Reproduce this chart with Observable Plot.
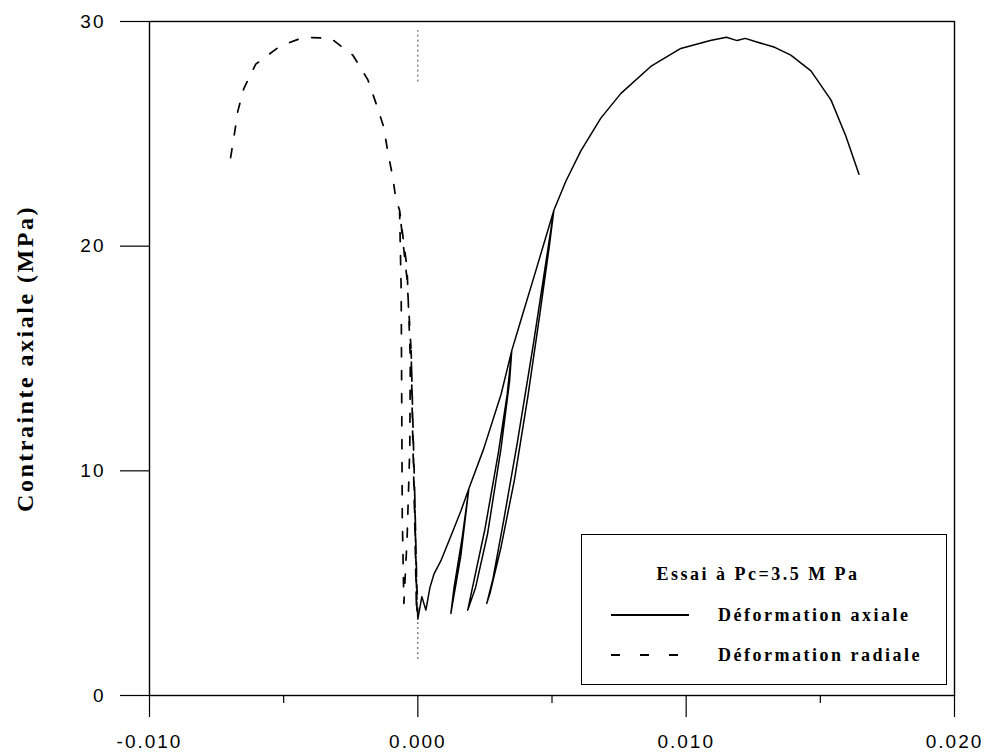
<!DOCTYPE html>
<html>
<head>
<meta charset="utf-8">
<script src="https://cdn.jsdelivr.net/npm/d3@7"></script>
<script src="https://cdn.jsdelivr.net/npm/@observablehq/plot@0.6"></script>
<style>
  html, body { margin: 0; padding: 0; background: #fff; }
  #wrap { position: relative; width: 989px; height: 753px; }
  #wrap svg { position: absolute; left: 0; top: 0; }
  g[aria-label$="tick label"] text { letter-spacing: 2px; }
  #legend { position: absolute; left: 581px; top: 534px; width: 364px; height: 149px;
            border: 1.5px solid #000; background: #fff;
            font-family: "Liberation Serif", "Times New Roman", serif; font-weight: bold; font-size: 18px; color: #000; }
  #legend .t { position: absolute; white-space: nowrap; letter-spacing: 2.5px; line-height: 1; }
  #legend svg { position: absolute; left: 0; top: 0; }
</style>
</head>
<body>
<div id="wrap"></div>
<script>
// ---- data (strain in units of 1e-3, stress in MPa) ----
const axialStrain = [0.00, 0.15, 0.30, 0.45, 0.60, 0.86, 1.30, 1.60, 1.90,
  1.60, 1.23, 1.35, 1.65, 1.90,
  2.46, 3.10, 3.50,
  3.42, 3.10, 2.60, 2.15, 1.86, 2.00, 2.50, 3.00, 3.33, 3.50,
  3.84, 4.32, 5.07,
  4.80, 4.30, 3.70, 3.20, 2.80, 2.57, 2.70, 3.10, 3.60, 4.10, 4.55, 4.90, 5.07,
  5.52, 6.08, 6.82, 7.57, 8.68, 9.80, 10.90, 11.50, 11.90, 12.20, 12.60, 13.30, 13.90, 14.65, 15.40, 15.95, 16.44];
const axialStress = [3.4, 4.4, 3.8, 4.8, 5.4, 6.0, 7.3, 8.2, 9.2,
  6.2, 3.65, 4.8, 7.0, 9.2,
  11.0, 13.4, 15.35,
  14.0, 11.0, 7.2, 4.8, 3.8, 4.6, 7.4, 10.8, 13.4, 15.35,
  16.7, 18.6, 21.6,
  19.5, 15.6, 11.2, 7.8, 5.2, 4.1, 4.6, 6.6, 9.6, 13.3, 17.0, 20.0, 21.6,
  22.9, 24.25, 25.7, 26.8, 28.0, 28.8, 29.15, 29.3, 29.15, 29.25, 29.1, 28.85, 28.5, 27.8, 26.5, 24.9, 23.2];

const radialStrain = [0.00, -0.06, -0.12, -0.06, -0.03, -0.08, -0.12,
  -0.18, -0.25, -0.15, -0.08, -0.05, -0.12, -0.20, -0.25,
  -0.40, -0.68,
  -0.62, -0.60, -0.58, -0.52,
  -0.40, -0.30, -0.28, -0.40, -0.68,
  -0.82, -0.93, -1.12, -1.27, -1.57, -1.86, -2.42, -3.24, -4.25, -5.14, -6.04, -6.49, -6.71, -6.86, -7.01, -7.05];
const radialStress = [3.5, 6.0, 9.2, 6.0, 3.7, 6.5, 9.2,
  12.0, 15.35, 10.0, 6.0, 3.8, 8.0, 12.0, 15.35,
  18.5, 21.6,
  18.0, 13.0, 8.0, 4.1,
  7.0, 11.0, 15.0, 19.0, 21.6,
  22.1, 23.05, 24.2, 25.3, 26.4, 27.4, 28.5, 29.25, 29.3, 28.9, 28.1, 27.0, 26.0, 24.8, 23.7, 23.5];

// visible pieces of the dotted zero-strain reference line
const zeroLineFrom = [27.3, 1.6];
const zeroLineTo = [29.6, 3.4];

const xMajorTicks = [-0.010, 0.000, 0.010, 0.020];
const xMinorTicks = [-0.005, 0.005, 0.015];
const yTicks = [0, 10, 20, 30];
const yLabel = "Contrainte axiale (MPa)";
const legendTitle = "Essai à Pc=3.5 M Pa";
const seriesNames = ["Déformation axiale", "Déformation radiale"];

const axial = axialStrain.map((s, i) => ({x: s / 1000, y: axialStress[i]}));
const radial = radialStrain.map((s, i) => ({x: s / 1000, y: radialStress[i]}));
const zeroSegs = zeroLineFrom.map((a, i) => ({x: 0, y1: a, y2: zeroLineTo[i]}));

const tickFont = {fontSize: 19, fontFamily: "'Liberation Sans', Arial, sans-serif"};

const chart = Plot.plot({
  width: 989,
  height: 753,
  marginLeft: 149,
  marginRight: 35,
  marginTop: 21,
  marginBottom: 58,
  x: {domain: [-0.010, 0.020], label: null},
  y: {domain: [0, 30], label: null},
  style: {background: "white", color: "black"},
  marks: [
    Plot.ruleX(zeroSegs, {x: "x", y1: "y1", y2: "y2", stroke: "#333", strokeWidth: 0.9, strokeDasharray: "2,3"}),
    Plot.line(radial, {x: "x", y: "y", stroke: "black", strokeWidth: 1.7, strokeDasharray: "9,14"}),
    Plot.line(axial, {x: "x", y: "y", stroke: "black", strokeWidth: 1.5}),
    Plot.frame({stroke: "black", strokeWidth: 1.4}),
    Plot.axisX(xMajorTicks, {tickSize: 22, tickPadding: 17, tickFormat: d => d.toFixed(3), label: null, strokeWidth: 1.2, ...tickFont}),
    Plot.axisX(xMinorTicks, {tickSize: 8, tickFormat: () => "", label: null, strokeWidth: 1.2}),
    Plot.axisY(yTicks, {tickSize: 29, tickPadding: 15, tickFormat: d => String(d), label: null, strokeWidth: 1.2, ...tickFont}),
    Plot.text([yLabel], {text: d => d, frameAnchor: "left", textAnchor: "middle", rotate: -90, dx: -124,
      fontSize: 24, fontWeight: "bold", fontFamily: "'Liberation Serif', 'Times New Roman', serif"})
  ]
});
chart.querySelectorAll("text").forEach(t => {
  if (t.textContent === yLabel) t.style.letterSpacing = "2.5px";
});

const wrap = document.getElementById("wrap");
wrap.appendChild(chart);

// legend
const lg = document.createElement("div");
lg.id = "legend";
lg.innerHTML = `
  <svg width="364" height="149">
    <line x1="29" x2="107" y1="80" y2="80" stroke="black" stroke-width="2"/>
    <line x1="29" x2="107" y1="120" y2="120" stroke="black" stroke-width="2" stroke-dasharray="9,20"/>
  </svg>
  <div class="t" style="left:0;width:352px;text-align:center;top:30px">${legendTitle}</div>
  <div class="t" style="left:136px;top:71px">${seriesNames[0]}</div>
  <div class="t" style="left:136px;top:111px">${seriesNames[1]}</div>`;
wrap.appendChild(lg);
</script>
</body>
</html>
